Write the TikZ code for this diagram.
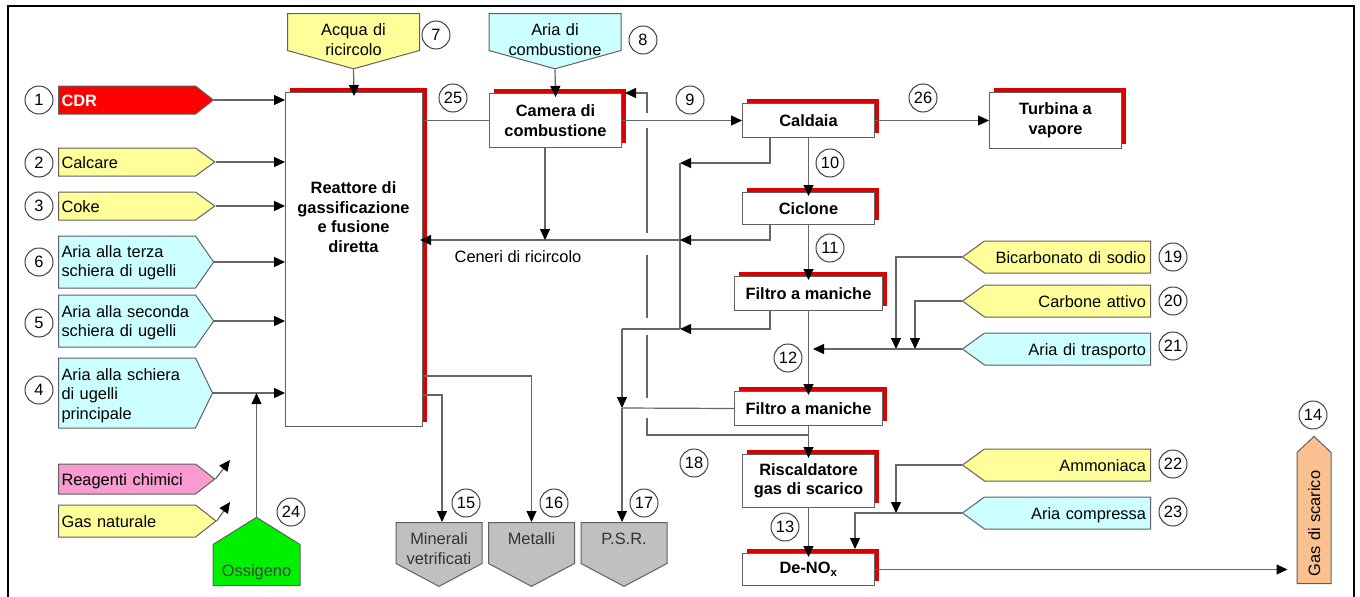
\documentclass[tikz,border=0pt]{standalone}
\usepackage{fontspec}
\setmainfont{Liberation Sans}
\usetikzlibrary{shapes.symbols,arrows.meta}
\hyphenpenalty=10000

\definecolor{feedyellow}{HTML}{FFFF99}
\definecolor{feedcyan}{HTML}{CCFFFF}
\definecolor{feedpink}{HTML}{F79BD0}
\definecolor{cdrred}{HTML}{FF0000}
\definecolor{oxygreen}{HTML}{00F000}
\definecolor{outgray}{HTML}{C0C0C0}
\definecolor{exhorange}{HTML}{FAC090}
\definecolor{rimred}{HTML}{DD0000}
\definecolor{edge}{HTML}{606060}

\tikzset{
  txt/.style={font=\fontsize{16.4}{19.5}\selectfont},
  unit/.style={draw=edge, fill=white, line width=1pt, font=\bfseries\fontsize{16.4}{19.5}\selectfont, align=center, anchor=north west, inner sep=0pt},
  rim/.style={draw=rimred, line width=3.8pt},
  feed/.style={shape=signal, draw=edge, line width=1pt, inner ysep=0pt},
  feedin/.style={feed, signal to=east, anchor=west, text width=131pt, inner xsep=3pt, align=left},
  feedright/.style={feed, signal to=west, anchor=east, text width=157pt, inner xsep=4.5pt, align=right, text height=22pt, text depth=10pt, signal pointer angle=72},
  feeddown/.style={feed, signal to=south, anchor=north, text width=124pt, inner xsep=4pt, inner ysep=1pt, align=center, text height=21pt, text depth=14pt, signal pointer angle=149},
  output/.style={feed, signal to=south, anchor=north, fill=outgray, text width=80pt, inner xsep=3pt, inner ysep=3pt, align=center, text height=19pt, text depth=16pt, signal pointer angle=124, text=black!80},
  num/.style={circle, draw=black!75, line width=1pt, minimum size=28pt, inner sep=0pt},
  flow/.style={draw=black!60, line width=1.2pt, -{Triangle[length=11pt,width=10pt,color=black]}},
  pipe/.style={draw=black!60, line width=1.2pt},
}

\begin{document}
\begin{tikzpicture}[x=1pt, y=-1pt, every node/.style={txt}]
\useasboundingbox (0,0) rectangle (1360,597);
% frame
\draw[line width=2.5pt] (8,597) -- (8,6) -- (1354,6) -- (1354,597);

% feeds into the reactor
\node[feedin, fill=cdrred, text=white, font=\bfseries\fontsize{16.4}{19.5}\selectfont, text height=20pt, text depth=8pt, signal pointer angle=76] (cdr) at (58,100) {CDR};
\node[feedin, fill=feedyellow, text height=20pt, text depth=8pt, signal pointer angle=72] (calcare) at (58,162) {Calcare};
\node[feedin, fill=feedyellow, text height=20pt, text depth=8pt, signal pointer angle=72] (coke) at (58,206) {Coke};
\node[feedin, fill=feedcyan, text height=21pt, text depth=31pt, signal pointer angle=110] (terza) at (58,262) {Aria alla terza\\schiera di ugelli};
\node[feedin, fill=feedcyan, text height=22pt, text depth=30pt, signal pointer angle=110] (seconda) at (58,321) {Aria alla seconda\\schiera di ugelli};
\node[feedin, fill=feedcyan, text height=22pt, text depth=48pt, signal pointer angle=128] (principale) at (58,393) {Aria alla schiera\\di ugelli\\principale};
\node[feedin, fill=feedpink, text height=21pt, text depth=9pt, signal pointer angle=76] (reagenti) at (58,479) {Reagenti chimici};
\node[feedin, fill=feedyellow, text height=22pt, text depth=10pt, signal pointer angle=76] (gasnat) at (58,521) {Gas naturale};
\node[feed, signal to=north, anchor=south, fill=oxygreen, text width=79pt, inner xsep=4pt, inner ysep=4pt, align=center, text height=28pt, text depth=5pt, signal pointer angle=116, text=black!75] (ossigeno) at (256.5,586) {Ossigeno};
\node[feeddown, fill=feedyellow] (acqua) at (353.5,13) {Acqua di\\ricircolo};
\node[feeddown, fill=feedcyan] (ariacomb) at (555,13) {Aria di\\combustione};

% process units
\node[unit, minimum width=137pt, minimum height=334pt] (reactor) at (285,92) {};
\node[font=\bfseries\fontsize{16.4}{19.5}\selectfont, align=center] (reactortxt) at (353.5,217) {Reattore di\\gassificazione\\e fusione\\diretta};
\node[unit, minimum width=132pt, minimum height=54pt] (camera) at (489,93) {Camera di\\combustione};
\node[unit, minimum width=132pt, minimum height=34pt] (caldaia) at (742,103) {Caldaia};
\node[unit, minimum width=132pt, minimum height=56pt] (turbina) at (989,92) {Turbina a\\vapore};
\node[unit, minimum width=132pt, minimum height=32pt] (ciclone) at (742,192) {Ciclone};
\node[unit, minimum width=148pt, minimum height=34pt] (filtroA) at (734,276) {Filtro a maniche};
\node[unit, minimum width=148pt, minimum height=34pt] (filtroB) at (734,391) {Filtro a maniche};
\node[unit, minimum width=132pt, minimum height=53pt] (riscald) at (742,454) {Riscaldatore\\gas di scarico};
\node[unit, minimum width=132pt, minimum height=32pt] (denox) at (742,553) {De-NO\textsubscript{x}};
\foreach \b in {reactor,camera,caldaia,turbina,ciclone,filtroA,filtroB,riscald,denox}
  \draw[rim] ([xshift=5pt,yshift=1.8pt]\b.north west) -- ([xshift=1.8pt,yshift=1.8pt]\b.north east) -- ([xshift=1.8pt,yshift=5pt]\b.south east);

% outputs
\node[output] (minerali) at (439,522) {Minerali\\vetrificati};
\node[output] (metalli) at (531.5,522) {Metalli};
\node[output] (psr) at (624,522) {P.S.R.};
\node[feed, fill=exhorange, signal to=east, rotate=90, anchor=west, text width=117pt, inner xsep=7pt, align=left, text height=23pt, text depth=11pt, signal pointer angle=93] (gasout) at (1314,584) {Gas di scarico};

% reagents on the right
\node[feedright, fill=feedyellow] (bicarb) at (1151,257) {Bicarbonato di sodio};
\node[feedright, fill=feedyellow] (carbone) at (1151,301) {Carbone attivo};
\node[feedright, fill=feedcyan] (trasporto) at (1151,349) {Aria di trasporto};
\node[feedright, fill=feedyellow] (ammoniaca) at (1151,465) {Ammoniaca};
\node[feedright, fill=feedcyan] (compressa) at (1151,513) {Aria compressa};

\node (ceneri) at (518,257) {Ceneri di ricircolo};

% stream numbers
\foreach \n/\x/\y in {1/39/100, 2/39/163, 3/39/206, 6/39/262, 5/39/323, 4/39/390,
    7/436/35, 8/643/40, 25/453/98, 9/690/100, 26/923/98, 10/830/163, 11/830/248,
    12/788/358, 18/694/463, 13/785/527, 15/466/503, 16/554/503, 17/644/503,
    24/291/512, 19/1173/257, 20/1173/301, 21/1173/346, 22/1173/464, 23/1173/512, 14/1313/415}
  \node[num] (n\n) at (\x,\y) {\n};

% junctions
\coordinate (reagentiend) at (230,460);
\coordinate (gasnatend) at (230,502);
\coordinate (camdrop) at (545,240);
\coordinate (cenerimid) at (680,240);
\coordinate (colltop) at (680,163);
\coordinate (collbot) at (680,329);
\coordinate (psrtop) at (622,329);
\coordinate (psrmid) at (622,408);
\coordinate (recjoin) at (808,435);
\coordinate (recup) at (647,93);
\coordinate (toMin) at (442,395);
\coordinate (toMet) at (531.5,376);
\coordinate (mixA) at (896,349);
\coordinate (mixB) at (915,349);
\coordinate (mixend) at (813,349);
\coordinate (mixC) at (896,513);
\coordinate (denoxin) at (855,549);

% recirculation back to the combustion chamber, with hops
\draw[flow] (recjoin) -| (recup) -- ([xshift=3pt]camera.north east);
\foreach \ya/\yb in {113/128, 233/255, 318/335, 398/418}
  \draw[white, line width=5pt] (647,\ya) -- (647,\yb);

% connectors
\foreach \f in {cdr,calcare,coke,terza,seconda,principale}
  \draw[flow] (\f.east) -- (\f.east -| reactor.west);
\draw[flow] (reagenti.east) -- (reagentiend);
\draw[flow] (gasnat.east) -- (gasnatend);
\draw[flow] (ossigeno.north) -- (ossigeno.north |- principale.east);
\draw[flow, shorten >=-4pt] (acqua.south) -- (reactor.north);
\draw[flow, shorten >=-4pt] (ariacomb.south) -- (camera.north);
\draw[pipe] (camera.west -| reactor.east) -- (camera.west);
\draw[flow] (camera.east) -- (caldaia.west);
\draw[flow] (caldaia.east) -- (turbina.west);
\draw[flow, shorten >=-4pt] (caldaia.south) -- (ciclone.north);
\draw[flow, shorten >=-4pt] (ciclone.south) -- (filtroA.north);
\draw[flow, shorten >=-4pt] (filtroA.south) -- (filtroB.north);
\draw[flow, shorten >=-4pt] (filtroB.south) -- (riscald.north);
\draw[flow, shorten >=-4pt] (riscald.south) -- (denox.north);
\draw[flow, shorten >=9pt] (denox.east) -- (denox.east -| gasout.north);

\draw[flow] ([xshift=28pt]caldaia.south west) |- (colltop);
\draw[pipe] (colltop) -- (collbot);
\draw[flow] ([xshift=28pt]ciclone.south west) |- (cenerimid);
\draw[flow, shorten >=-3pt] (cenerimid) -- (cenerimid -| reactor.east);
\draw[flow] (camdrop |- camera.south) -- (camdrop);
\draw[flow] ([xshift=36pt]filtroA.south west) |- (collbot);
\draw[pipe] (collbot) -- (psrtop);
\draw[flow] (psrtop) -- (psrmid);
\draw[pipe] (filtroB.west) -- (psrmid);
\draw[flow] (psrmid) -- (psrmid |- psr.north);

\draw[flow] (toMin -| reactor.east) -- (toMin) -- (toMin |- minerali.north);
\draw[flow] (toMet -| reactor.east) -- (toMet) -- (toMet |- metalli.north);

\draw[flow] (bicarb.west) -| (mixA);
\draw[flow] (carbone.west) -| (mixB);
\draw[flow] (trasporto.west) -- (mixend);
\draw[flow] (ammoniaca.west) -| (mixC);
\draw[flow] (compressa.west) -| (denoxin);
\end{tikzpicture}
\end{document}
